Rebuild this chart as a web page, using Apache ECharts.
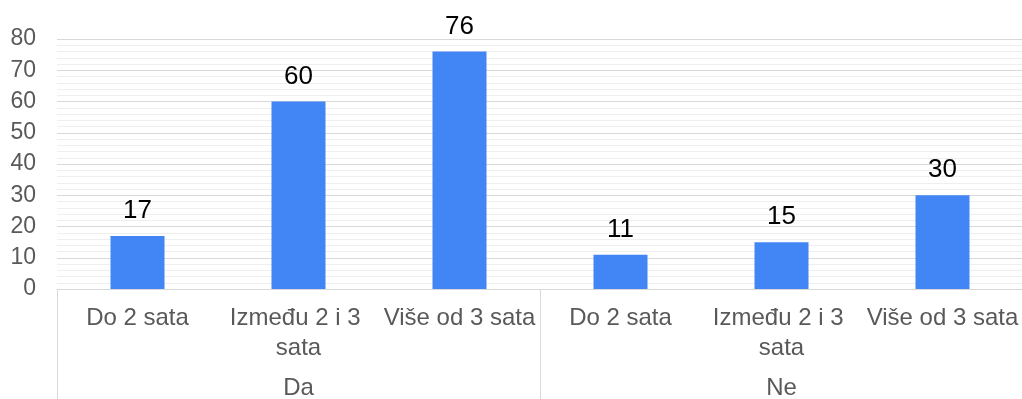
<!DOCTYPE html>
<html>
<head>
<meta charset="utf-8">
<script src="https://cdn.jsdelivr.net/npm/echarts@6/dist/echarts.min.js"></script>
<style>
  html, body { margin: 0; padding: 0; background: #fff; }
  #chart { width: 1022px; height: 399px; }
</style>
</head>
<body>
<div id="chart"></div>
<script>
// Time spent per answer group
const categories = ['Do 2 sata', 'Između 2 i 3 sata', 'Više od 3 sata',
                    'Do 2 sata', 'Između 2 i 3 sata', 'Više od 3 sata'];
const groups = ['Da', 'Ne'];
const values = [17, 60, 76, 11, 15, 30];
const yTicks = [0, 10, 20, 30, 40, 50, 60, 70, 80];

const FONT = '"Liberation Sans", Arial, sans-serif';
const chart = echarts.init(document.getElementById('chart'));

chart.setOption({
  animation: false,
  grid: {
    left: 57, right: -1, top: 39, bottom: 110,
    containLabel: false,
    outerBoundsMode: 'none'
  },
  xAxis: [
    {
      type: 'category',
      data: categories,
      position: 'bottom',
      axisLine: { show: true, lineStyle: { color: '#d9d9d9', width: 1 } },
      axisTick: { show: false },
      axisLabel: {
        interval: 0,
        margin: 14,
        color: '#595959',
        fontFamily: FONT,
        fontSize: 24,
        lineHeight: 30,
        width: 172,
        overflow: 'break'
      }
    },
    {
      type: 'category',
      data: groups,
      position: 'bottom',
      axisLine: { show: false },
      axisTick: {
        show: true,
        length: 112,
        lineStyle: { color: '#d9d9d9', width: 1 }
      },
      axisLabel: {
        margin: 87,
        color: '#595959',
        fontFamily: FONT,
        fontSize: 24
      }
    }
  ],
  yAxis: {
    type: 'value',
    min: yTicks[0],
    max: yTicks[yTicks.length - 1],
    interval: 10,
    axisLine: { show: false },
    axisTick: { show: false },
    axisLabel: {
      margin: 21,
      color: '#595959',
      fontFamily: FONT,
      fontSize: 23
    },
    splitLine: { show: true, lineStyle: { color: '#d9d9d9', width: 1 } },
    minorTick: { show: false, splitNumber: 5 },
    minorSplitLine: { show: true, lineStyle: { color: '#efefef', width: 1 } }
  },
  series: [
    {
      type: 'bar',
      data: values,
      xAxisIndex: 0,
      barWidth: 54,
      itemStyle: { color: '#4285f4' },
      label: {
        show: true,
        position: 'top',
        distance: 12,
        color: '#000',
        fontFamily: FONT,
        fontSize: 26
      }
    }
  ]
});
</script>
</body>
</html>
